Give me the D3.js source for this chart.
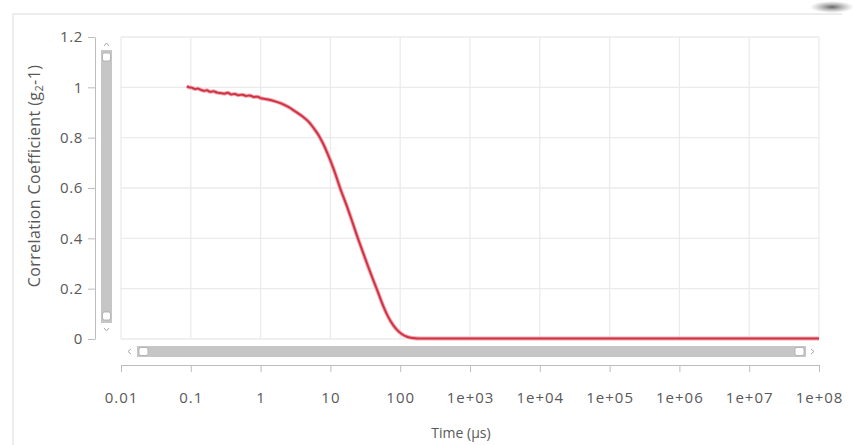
<!DOCTYPE html>
<html>
<head>
<meta charset="utf-8">
<script src="https://cdn.jsdelivr.net/npm/d3@7"></script>
<style>
  html, body { margin: 0; padding: 0; background: #fff; }
  svg { display: block; }
  text { font-family: "Open Sans", "Noto Sans", sans-serif; fill: #595959; }
</style>
</head>
<body>
<svg id="chart" width="853" height="445"></svg>
<script>
// Correlation function g2-1 versus delay time (µs)
const delayTimes = [
  0.088, 0.095, 0.105, 0.115, 0.125, 0.14, 0.155, 0.17, 0.19, 0.21,
  0.24, 0.27, 0.3, 0.34, 0.38, 0.43, 0.48, 0.55, 0.62, 0.7,
  0.8, 0.9, 1.0, 1.2, 1.5, 2.0, 2.5, 3.0, 4.0, 5.0,
  6.0, 7.0, 8.0, 9.0, 10, 11, 12, 14, 17, 20,
  25, 30, 35, 41, 48, 57, 67, 78, 90, 105,
  125, 150, 200, 300, 1e3, 1e4, 1e5, 1e6, 1e7, 1e8
];
const correlation = [
  1.005, 1.0, 0.998, 0.993, 0.995, 0.99, 0.986, 0.988, 0.982, 0.984,
  0.979, 0.977, 0.975, 0.978, 0.972, 0.974, 0.969, 0.971, 0.966, 0.968,
  0.962, 0.963, 0.957, 0.953, 0.947, 0.935, 0.922, 0.908, 0.884, 0.860,
  0.831, 0.803, 0.772, 0.740, 0.709, 0.679, 0.649, 0.594, 0.532, 0.476,
  0.397, 0.336, 0.285, 0.235, 0.186, 0.132, 0.089, 0.058, 0.036, 0.020,
  0.009, 0.004, 0.002, 0.002, 0.002, 0.002, 0.002, 0.002, 0.002, 0.002
];
const xTickValues = [0.01, 0.1, 1, 10, 100, 1e3, 1e4, 1e5, 1e6, 1e7, 1e8];
const xTickLabels = ["0.01", "0.1", "1", "10", "100", "1e+03", "1e+04", "1e+05", "1e+06", "1e+07", "1e+08"];
const yTickValues = [0, 0.2, 0.4, 0.6, 0.8, 1, 1.2];
const yTickLabels = ["0", "0.2", "0.4", "0.6", "0.8", "1", "1.2"];

const svg = d3.select("#chart");

const x = d3.scaleLog().domain([0.01, 1e8]).range([121, 819]);
const y = d3.scaleLinear().domain([0, 1.2]).range([339, 37]);

// window frame
svg.append("path")
  .attr("d", "M13,445 L13,14 L842,14")
  .attr("fill", "none").attr("stroke", "#e8e8e8").attr("stroke-width", 1.5);
const shade = svg.append("defs").append("radialGradient").attr("id", "shade");
shade.append("stop").attr("offset", "0%").attr("stop-color", "#555").attr("stop-opacity", 0.9);
shade.append("stop").attr("offset", "100%").attr("stop-color", "#888").attr("stop-opacity", 0);
svg.append("ellipse").attr("cx", 832).attr("cy", 7).attr("rx", 22).attr("ry", 6).attr("fill", "url(#shade)");

// grid
const grid = svg.append("g").attr("stroke", "#ebebeb").attr("stroke-width", 1.3);
grid.selectAll("line.v").data(xTickValues).join("line")
  .attr("x1", d => x(d)).attr("x2", d => x(d))
  .attr("y1", y(1.2)).attr("y2", y(0));
grid.selectAll("line.h").data(yTickValues).join("line")
  .attr("x1", x(0.01)).attr("x2", x(1e8))
  .attr("y1", d => y(d)).attr("y2", d => y(d));

// y axis
const yAxis = d3.axisLeft(y).tickValues(yTickValues)
  .tickFormat((d, i) => yTickLabels[i]).tickSize(7).tickPadding(5).tickSizeOuter(0);
const gy = svg.append("g").attr("transform", "translate(95,0)").call(yAxis);
gy.select(".domain").attr("stroke", "#bdbdbd");
gy.selectAll(".tick line").attr("stroke", "#bdbdbd");
gy.selectAll(".tick text").attr("font-size", 15).attr("fill", "#595959")
  .attr("font-family", "'Open Sans', sans-serif").attr("letter-spacing", "0.6px");

// x axis
const xAxis = d3.axisBottom(x).tickValues(xTickValues)
  .tickFormat((d, i) => xTickLabels[i]).tickSize(7).tickPadding(20).tickSizeOuter(0);
const gx = svg.append("g").attr("transform", "translate(0,365)").call(xAxis);
gx.select(".domain").attr("stroke", "#bdbdbd");
gx.selectAll(".tick line").attr("stroke", "#bdbdbd");
gx.selectAll(".tick text").attr("font-size", 15).attr("fill", "#595959")
  .attr("font-family", "'Open Sans', sans-serif").attr("letter-spacing", "1px");

// scrollbars
const bar = svg.append("g");
bar.append("rect").attr("x", 101).attr("y", 50).attr("width", 11).attr("height", 273).attr("fill", "#c6c6c6");
bar.append("rect").attr("x", 102.5).attr("y", 53).attr("width", 8).attr("height", 8).attr("rx", 2)
  .attr("fill", "#fff").attr("stroke", "#aaa").attr("stroke-width", 0.8);
bar.append("rect").attr("x", 102.5).attr("y", 312).attr("width", 8).attr("height", 8).attr("rx", 2)
  .attr("fill", "#fff").attr("stroke", "#aaa").attr("stroke-width", 0.8);
bar.append("path").attr("d", "M104,46 L106.5,43 L109,46").attr("fill", "none").attr("stroke", "#aaa");
bar.append("path").attr("d", "M104,328 L106.5,331 L109,328").attr("fill", "none").attr("stroke", "#aaa");

bar.append("rect").attr("x", 137).attr("y", 346).attr("width", 669).attr("height", 11).attr("fill", "#c6c6c6");
bar.append("rect").attr("x", 139).attr("y", 347.5).attr("width", 9).attr("height", 8).attr("rx", 2)
  .attr("fill", "#fff").attr("stroke", "#aaa").attr("stroke-width", 0.8);
bar.append("rect").attr("x", 795).attr("y", 347.5).attr("width", 9).attr("height", 8).attr("rx", 2)
  .attr("fill", "#fff").attr("stroke", "#aaa").attr("stroke-width", 0.8);
bar.append("path").attr("d", "M131,349 L128,351.5 L131,354").attr("fill", "none").attr("stroke", "#aaa");
bar.append("path").attr("d", "M811,349 L814,351.5 L811,354").attr("fill", "none").attr("stroke", "#aaa");

// curve
const pts = delayTimes.map((t, i) => [t, correlation[i]]);
const line = d3.line().x(d => x(d[0])).y(d => y(d[1])).curve(d3.curveMonotoneX);
svg.append("path").datum(pts)
  .attr("d", line).attr("fill", "none")
  .attr("stroke", "#f2a9b1").attr("stroke-width", 4).attr("stroke-linejoin", "round");
svg.append("path").datum(pts)
  .attr("d", line).attr("fill", "none")
  .attr("stroke", "#cf3446").attr("stroke-width", 2).attr("stroke-linejoin", "round");

// axis titles
svg.append("text").attr("x", 461).attr("y", 438).attr("text-anchor", "middle")
  .attr("font-size", 14).text("Time (µs)");
const yt = svg.append("text")
  .attr("transform", "translate(40,176) rotate(-90)")
  .attr("text-anchor", "middle").attr("font-size", 16).attr("letter-spacing", "0.4px");
yt.append("tspan").text("Correlation Coefficient (g");
yt.append("tspan").attr("font-size", 11).attr("dy", 3).text("2");
yt.append("tspan").attr("dy", -3).text("-1)");
</script>
</body>
</html>
